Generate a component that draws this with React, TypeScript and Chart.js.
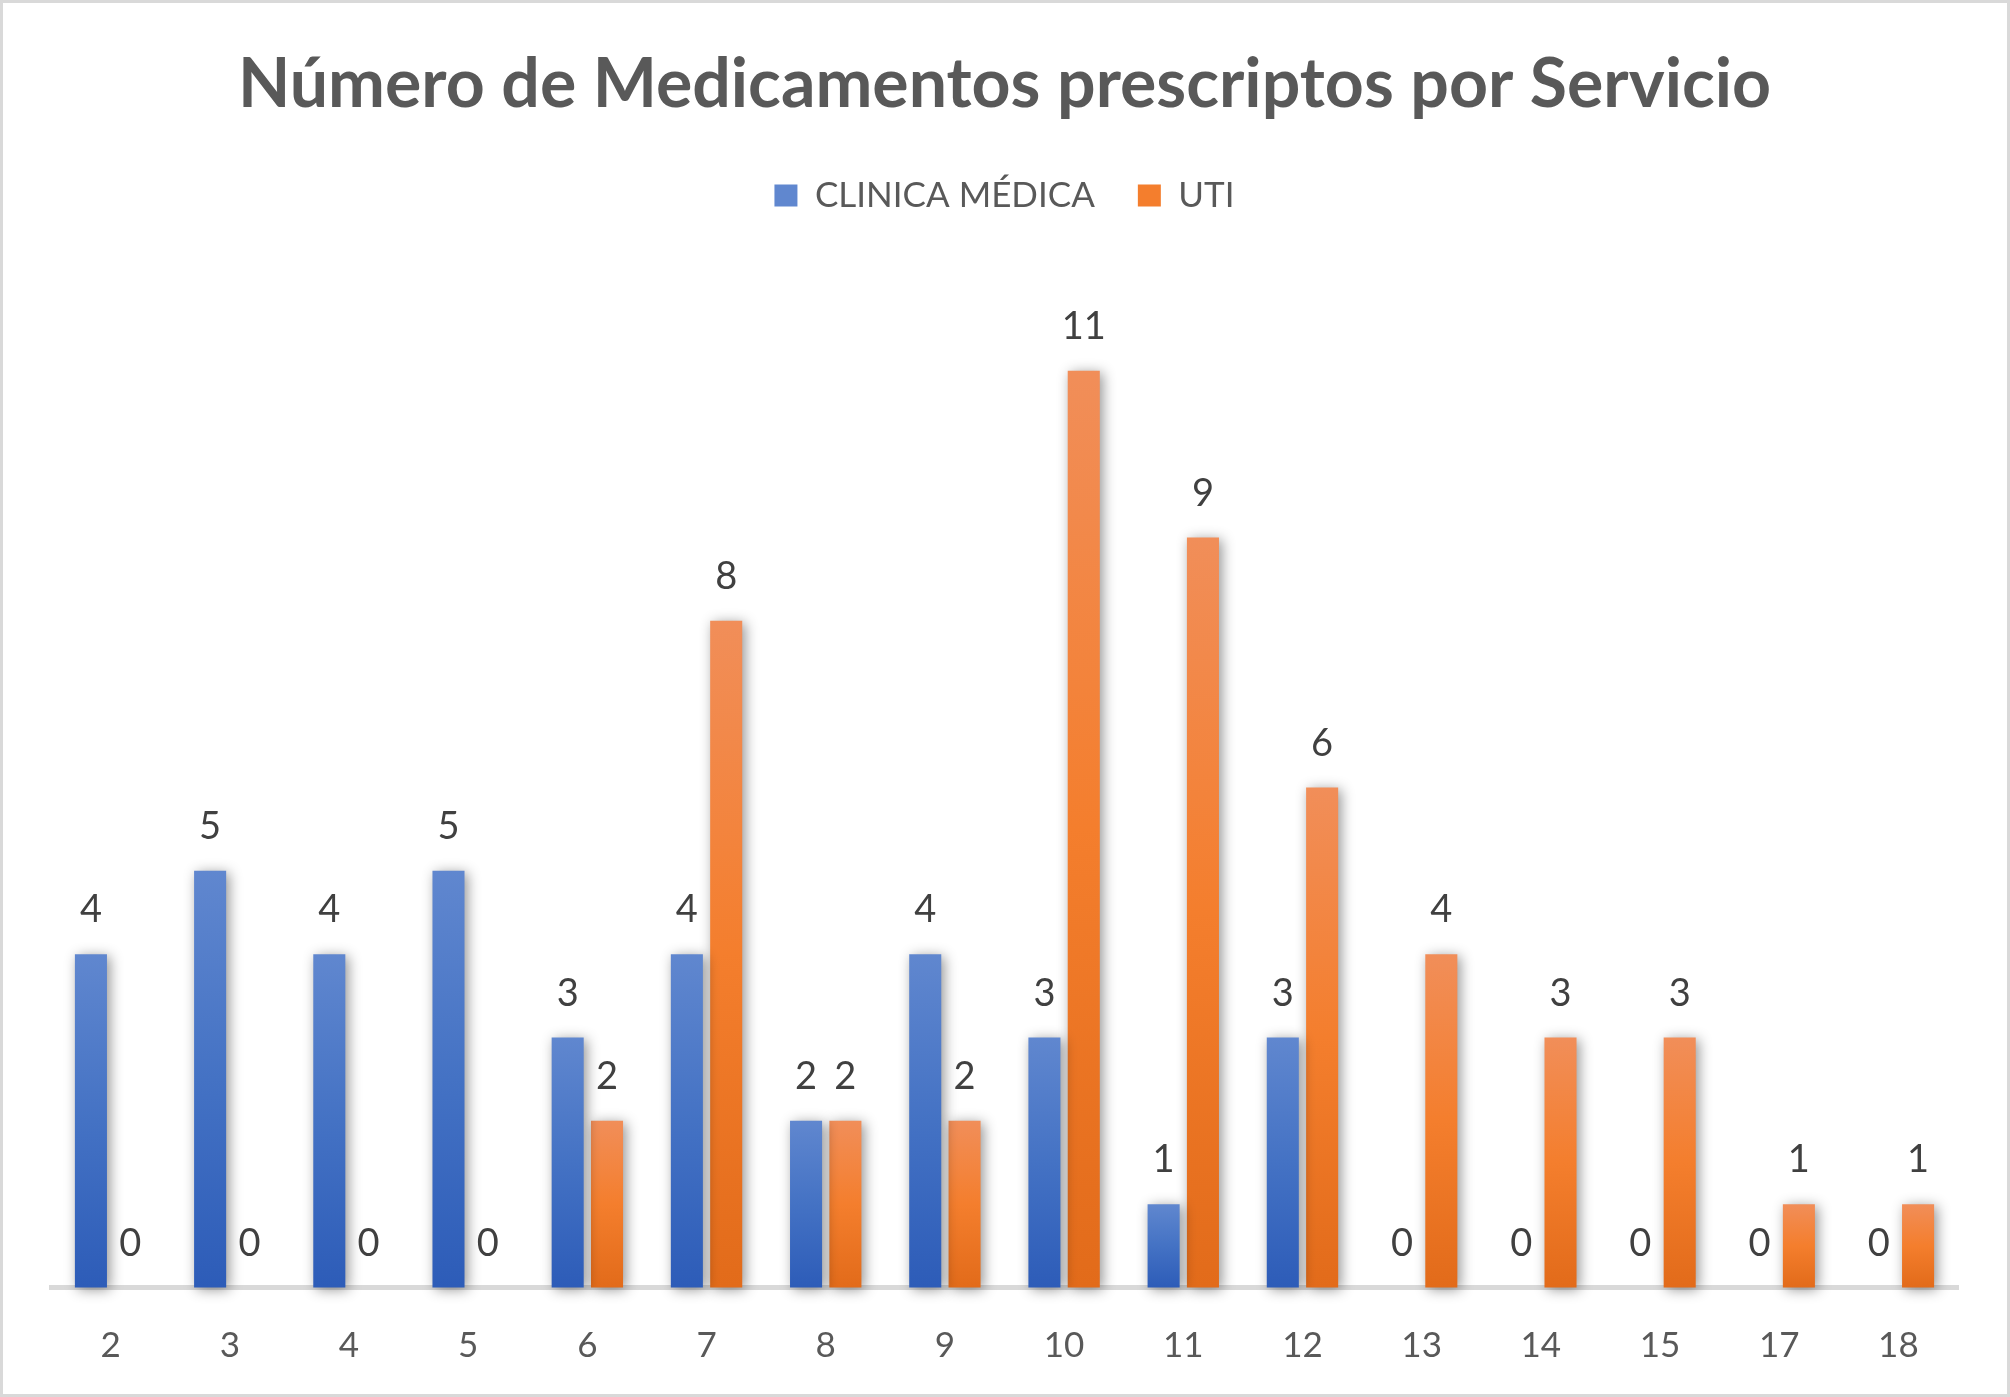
import { useEffect, useRef } from 'react';
import { Chart, registerables } from 'chart.js';

Chart.register(...registerables);

const TITLE = 'Número de Medicamentos prescriptos por Servicio';
const CATEGORIES = ['2', '3', '4', '5', '6', '7', '8', '9', '10', '11', '12', '13', '14', '15', '17', '18'];
const CLINICA_MEDICA = [4, 5, 4, 5, 3, 4, 2, 4, 3, 1, 3, 0, 0, 0, 0, 0];
const UTI = [0, 0, 0, 0, 2, 8, 2, 2, 11, 9, 6, 4, 3, 3, 1, 1];
const SERIES_NAMES = ['CLINICA MÉDICA', 'UTI'];
const Y_MAX = 12;

const BLUE = ['#6087cf', '#4472c4', '#2d5cb8'];
const ORANGE = ['#f18e59', '#f47e2d', '#e26b1a'];

const FONT = 'Lato';
const LEGEND_HEIGHT = 152.5;
const X_AXIS_HEIGHT = 106.5;

// each bar gets its own top-to-bottom gradient, like the Excel preset
function barGradient(stops: string[]) {
  return (c: any) => {
    const chart = c.chart;
    const y = chart.scales?.y;
    if (c.type !== 'data' || !y || !chart.chartArea) return stops[1];
    const top = y.getPixelForValue(c.raw);
    const base = y.getPixelForValue(0);
    if (base - top < 1) return stops[1];
    const g = chart.ctx.createLinearGradient(0, top, 0, base);
    g.addColorStop(0, stops[0]);
    g.addColorStop(0.5, stops[1]);
    g.addColorStop(1, stops[2]);
    return g;
  };
}

// shadow under the bars and value labels above them
const barDecor = {
  id: 'barDecor',
  beforeDatasetsDraw(chart: any) {
    const ctx = chart.ctx;
    ctx.save();
    ctx.shadowColor = 'rgba(0,0,0,0.42)';
    ctx.shadowBlur = 13;
    ctx.shadowOffsetX = 3;
    ctx.shadowOffsetY = 2;
  },
  afterDatasetsDraw(chart: any) {
    const ctx = chart.ctx;
    ctx.restore();
    ctx.save();
    ctx.font = `38px ${FONT}`;
    ctx.fillStyle = '#404040';
    ctx.textAlign = 'center';
    ctx.textBaseline = 'middle';
    chart.data.datasets.forEach((ds: any, i: number) => {
      const meta = chart.getDatasetMeta(i);
      meta.data.forEach((el: any, j: number) => {
        ctx.fillText(String(ds.data[j]), el.x, el.y - 44);
      });
    });
    ctx.restore();
  },
};

// leave room between legend and plot area
const legendGap = {
  id: 'legendGap',
  beforeLayout(chart: any) {
    const legend = chart.legend;
    if (!legend || legend._gapPatched) return;
    const fit = legend.fit;
    legend.fit = function () {
      fit.call(this);
      this.height = LEGEND_HEIGHT;
    };
    legend._gapPatched = true;
  },
};

function BarChart() {
  const ref = useRef<HTMLCanvasElement>(null);
  const chartRef = useRef<Chart | null>(null);

  useEffect(() => {
    if (!ref.current) return;
    const ctx = ref.current.getContext('2d');
    if (!ctx) return;
    chartRef.current = new Chart(ctx, {
      type: 'bar',
      data: {
        labels: CATEGORIES,
        datasets: [
          {
            label: SERIES_NAMES[0],
            data: CLINICA_MEDICA,
            backgroundColor: barGradient(BLUE),
            borderWidth: 0,
            clip: false,
          },
          {
            label: SERIES_NAMES[1],
            data: UTI,
            backgroundColor: barGradient(ORANGE),
            borderWidth: 0,
            clip: false,
          },
        ],
      },
      plugins: [barDecor, legendGap],
      options: {
        responsive: false,
        animation: false,
        layout: { padding: { top: 0, left: 48, right: 49, bottom: 0 } },
        datasets: { bar: { categoryPercentage: 0.66, barPercentage: 0.815 } },
        plugins: {
          title: {
            display: true,
            text: TITLE,
            color: '#595959',
            font: { family: FONT, size: 68, weight: 'bold', lineHeight: 1.2 },
            padding: { top: 41, bottom: 9.4 },
          },
          legend: {
            position: 'top',
            labels: {
              boxWidth: 23,
              boxHeight: 22,
              padding: 43,
              color: '#595959',
              font: { family: FONT, size: 35 },
            },
          },
          tooltip: { enabled: false },
        },
        scales: {
          x: {
            z: 1,
            grid: { display: false, drawTicks: false },
            border: { display: true, color: '#d9d9d9', width: 5 },
            ticks: { color: '#595959', font: { family: FONT, size: 35 }, padding: 37 },
            afterFit: (scale: any) => {
              scale.height = X_AXIS_HEIGHT;
            },
          },
          y: { display: false, min: 0, max: Y_MAX },
        },
      },
    });
    return () => {
      chartRef.current?.destroy();
      chartRef.current = null;
    };
  }, []);

  return <canvas ref={ref} width={2004} height={1391} />;
}

export default function App() {
  useEffect(() => {
    document.body.style.margin = '0';
    document.body.style.background = '#ffffff';
  }, []);

  return (
    <div
      style={{
        width: 2010,
        height: 1397,
        boxSizing: 'border-box',
        border: '3px solid #d9d9d9',
        background: '#ffffff',
      }}
    >
      <BarChart />
    </div>
  );
}
